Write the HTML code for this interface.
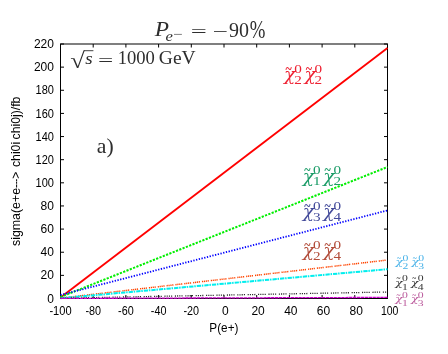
<!DOCTYPE html>
<html lang="en"><head><meta charset="utf-8"><title>P(e-) = -90%</title>
<style>html,body{margin:0;padding:0;background:#fff}svg{display:block;will-change:transform}.s{font-family:"Liberation Sans",sans-serif;font-size:12px;fill:#000}.r{font-family:"Liberation Serif",serif;fill:#2e2e2e}.i{font-family:"Liberation Serif",serif;font-style:italic}</style></head><body>
<svg width="448" height="354" viewBox="0 0 448 354">
<rect width="448" height="354" fill="#fff"/>
<path d="M60.50 298.5v-3.5M60.50 44.0v3.5M93.20 298.5v-3.5M93.20 44.0v3.5M125.90 298.5v-3.5M125.90 44.0v3.5M158.60 298.5v-3.5M158.60 44.0v3.5M191.30 298.5v-3.5M191.30 44.0v3.5M224.00 298.5v-3.5M224.00 44.0v3.5M256.70 298.5v-3.5M256.70 44.0v3.5M289.40 298.5v-3.5M289.40 44.0v3.5M322.10 298.5v-3.5M322.10 44.0v3.5M354.80 298.5v-3.5M354.80 44.0v3.5M387.50 298.5v-3.5M387.50 44.0v3.5M60.5 298.50h3.5M387.5 298.50h-3.5M60.5 275.36h3.5M387.5 275.36h-3.5M60.5 252.23h3.5M387.5 252.23h-3.5M60.5 229.09h3.5M387.5 229.09h-3.5M60.5 205.95h3.5M387.5 205.95h-3.5M60.5 182.82h3.5M387.5 182.82h-3.5M60.5 159.68h3.5M387.5 159.68h-3.5M60.5 136.55h3.5M387.5 136.55h-3.5M60.5 113.41h3.5M387.5 113.41h-3.5M60.5 90.27h3.5M387.5 90.27h-3.5M60.5 67.14h3.5M387.5 67.14h-3.5M60.5 44.00h3.5M387.5 44.00h-3.5" stroke="#000" stroke-width="1" fill="none"/>
<rect x="60.5" y="44.0" width="327.0" height="254.5" fill="none" stroke="#000" stroke-width="1"/>
<line x1="60.5" y1="297.4" x2="387.5" y2="48.1" stroke="#ff0000" stroke-width="1.85"/>
<line x1="60.5" y1="297.0" x2="387.5" y2="167.0" stroke="#00ee00" stroke-width="2.0" stroke-dasharray="2.2 1.35"/>
<line x1="60.5" y1="295.0" x2="387.5" y2="210.4" stroke="#0000ff" stroke-width="1.8" stroke-dasharray="1.3 1.5"/>
<line x1="60.5" y1="298.1" x2="387.5" y2="260.0" stroke="#ff4500" stroke-width="1.5" stroke-dasharray="1.2 0.7 1.2 0.7 1.2 0.7 1.2 2.0"/>
<line x1="60.5" y1="298.2" x2="387.5" y2="269.2" stroke="#00eeee" stroke-width="2.0" stroke-dasharray="4.3 0.8 1.5 1.0"/>
<line x1="60.5" y1="298.2" x2="387.5" y2="292.0" stroke="#222222" stroke-width="1.3" stroke-dasharray="1.1 1.1 1.1 1.1 1.1 1.1 1.1 2.7"/>
<line x1="60.5" y1="298.4" x2="387.5" y2="297.4" stroke="#cc00cc" stroke-width="1.3" stroke-dasharray="3.4 0.5"/>
<text class="s" text-anchor="end" transform="translate(53.95 302.60) scale(1 1)">0</text>
<text class="s" text-anchor="end" transform="translate(53.95 279.46) scale(1 1)">20</text>
<text class="s" text-anchor="end" transform="translate(53.95 256.33) scale(1 1)">40</text>
<text class="s" text-anchor="end" transform="translate(53.95 233.19) scale(1 1)">60</text>
<text class="s" text-anchor="end" transform="translate(53.95 210.05) scale(1 1)">80</text>
<text class="s" text-anchor="end" transform="translate(53.95 186.92) scale(0.92 1)">100</text>
<text class="s" text-anchor="end" transform="translate(53.95 163.78) scale(0.92 1)">120</text>
<text class="s" text-anchor="end" transform="translate(53.95 140.65) scale(0.92 1)">140</text>
<text class="s" text-anchor="end" transform="translate(53.95 117.51) scale(0.92 1)">160</text>
<text class="s" text-anchor="end" transform="translate(53.95 94.37) scale(0.92 1)">180</text>
<text class="s" text-anchor="end" transform="translate(53.95 71.24) scale(1 1)">200</text>
<text class="s" text-anchor="end" transform="translate(53.95 48.10) scale(1 1)">220</text>
<text class="s" text-anchor="middle" transform="translate(60.50 315) scale(0.925 1)">-100</text>
<text class="s" text-anchor="middle" transform="translate(93.20 315) scale(0.9 1)">-80</text>
<text class="s" text-anchor="middle" transform="translate(125.90 315) scale(0.9 1)">-60</text>
<text class="s" text-anchor="middle" transform="translate(158.60 315) scale(0.9 1)">-40</text>
<text class="s" text-anchor="middle" transform="translate(191.30 315) scale(0.9 1)">-20</text>
<text class="s" text-anchor="middle" transform="translate(225.40 315) scale(1 1)">0</text>
<text class="s" text-anchor="middle" transform="translate(258.10 315) scale(1 1)">20</text>
<text class="s" text-anchor="middle" transform="translate(290.80 315) scale(1 1)">40</text>
<text class="s" text-anchor="middle" transform="translate(323.50 315) scale(1 1)">60</text>
<text class="s" text-anchor="middle" transform="translate(356.20 315) scale(1 1)">80</text>
<text class="s" text-anchor="middle" transform="translate(389.70 315) scale(0.875 1)">100</text>
<text class="s" x="223.9" y="332.5" text-anchor="middle" transform="translate(223.9 0) scale(0.98 1) translate(-223.9 0)">P(e+)</text>
<text class="s" transform="translate(19.5 246.0) rotate(-90) scale(1.03 1)">sigma(e+e-</text>
<text class="s" transform="translate(19.5 183.9) rotate(-90) scale(0.62 1)">--</text>
<text class="s" transform="translate(19.5 178.8) rotate(-90) scale(1.0 1)">&gt;</text>
<text class="s" transform="translate(19.5 167.1) rotate(-90) scale(1.025 1)">chi0i</text>
<text class="s" transform="translate(19.5 139.4) rotate(-90) scale(1.02 1)">chi0j)/fb</text>
<text class="r i" transform="translate(154.7 36.3) scale(1.15 1)" font-size="20.3">P</text>
<text class="r i" transform="translate(165.5 40.65) scale(1.14 1)" font-size="14.6">e</text>
<text class="r" transform="translate(173.2 38.1) scale(1.42 1)" font-size="12">−</text>
<text class="r" transform="translate(190.8 37.1) scale(1.675 1)" font-size="17">=</text>
<text class="r" transform="translate(212.6 37.1) scale(1.6 1)" font-size="17">−</text>
<text class="r" transform="translate(229.1 36.6) scale(1 1)" font-size="20">90</text>
<text class="r" transform="translate(249.7 37.9) scale(0.94 1.25)" font-size="20">%</text>
<text class="r" transform="translate(70.2 67.9) scale(1.19 1)" font-size="22.3">√</text>
<path d="M84 50.7H93.4" stroke="#2e2e2e" stroke-width="0.9"/>
<text class="r i" transform="translate(85.2 64.3) scale(1.08 1)" font-size="17.7">s</text>
<text class="r" transform="translate(98.1 66.1) scale(1.59 1)" font-size="17">=</text>
<text class="r" transform="translate(117.7 64.2) scale(1 1)" font-size="18.6">1000</text>
<text class="r" transform="translate(158.8 64.2) scale(1.05 1)" font-size="18.6">GeV</text>
<text class="r" transform="translate(96.75 153.3) scale(1 1)" font-size="21.7">a)</text>
<g fill="#ee2233" transform="translate(283.0 83.6)"><text transform="translate(1.0 -3.5) scale(1.13 0.97)" font-size="16.5" font-family="DejaVu Serif,serif" font-style="italic">χ</text><text x="2.4" y="-10.9" font-size="12" font-weight="bold" font-family="Liberation Serif,serif">~</text><text transform="translate(11.2 -11.0) scale(1.3 1)" font-size="11.7" font-family="Liberation Serif,serif">0</text><text transform="translate(11.2 0.1) scale(1.3 1)" font-size="11.7" font-family="Liberation Serif,serif">2</text><text transform="translate(21.4 -3.5) scale(1.13 0.97)" font-size="16.5" font-family="DejaVu Serif,serif" font-style="italic">χ</text><text x="22.8" y="-10.9" font-size="12" font-weight="bold" font-family="Liberation Serif,serif">~</text><text transform="translate(31.6 -11.0) scale(1.3 1)" font-size="11.7" font-family="Liberation Serif,serif">0</text><text transform="translate(31.6 0.1) scale(1.3 1)" font-size="11.7" font-family="Liberation Serif,serif">2</text></g>
<g fill="#1c9c68" transform="translate(301.8 185.3)"><text transform="translate(1.0 -3.5) scale(1.13 0.97)" font-size="16.5" font-family="DejaVu Serif,serif" font-style="italic">χ</text><text x="2.4" y="-10.9" font-size="12" font-weight="bold" font-family="Liberation Serif,serif">~</text><text transform="translate(11.2 -11.0) scale(1.3 1)" font-size="11.7" font-family="Liberation Serif,serif">0</text><text transform="translate(11.2 0.1) scale(1.3 1)" font-size="11.7" font-family="Liberation Serif,serif">1</text><text transform="translate(21.4 -3.5) scale(1.13 0.97)" font-size="16.5" font-family="DejaVu Serif,serif" font-style="italic">χ</text><text x="22.8" y="-10.9" font-size="12" font-weight="bold" font-family="Liberation Serif,serif">~</text><text transform="translate(31.6 -11.0) scale(1.3 1)" font-size="11.7" font-family="Liberation Serif,serif">0</text><text transform="translate(31.6 0.1) scale(1.3 1)" font-size="11.7" font-family="Liberation Serif,serif">2</text></g>
<g fill="#434a9a" transform="translate(301.8 220.9)"><text transform="translate(1.0 -3.5) scale(1.13 0.97)" font-size="16.5" font-family="DejaVu Serif,serif" font-style="italic">χ</text><text x="2.4" y="-10.9" font-size="12" font-weight="bold" font-family="Liberation Serif,serif">~</text><text transform="translate(11.2 -11.0) scale(1.3 1)" font-size="11.7" font-family="Liberation Serif,serif">0</text><text transform="translate(11.2 0.1) scale(1.3 1)" font-size="11.7" font-family="Liberation Serif,serif">3</text><text transform="translate(21.4 -3.5) scale(1.13 0.97)" font-size="16.5" font-family="DejaVu Serif,serif" font-style="italic">χ</text><text x="22.8" y="-10.9" font-size="12" font-weight="bold" font-family="Liberation Serif,serif">~</text><text transform="translate(31.6 -11.0) scale(1.3 1)" font-size="11.7" font-family="Liberation Serif,serif">0</text><text transform="translate(31.6 0.1) scale(1.3 1)" font-size="11.7" font-family="Liberation Serif,serif">4</text></g>
<g fill="#b24c3a" transform="translate(301.8 259.9)"><text transform="translate(1.0 -3.5) scale(1.13 0.97)" font-size="16.5" font-family="DejaVu Serif,serif" font-style="italic">χ</text><text x="2.4" y="-10.9" font-size="12" font-weight="bold" font-family="Liberation Serif,serif">~</text><text transform="translate(11.2 -11.0) scale(1.3 1)" font-size="11.7" font-family="Liberation Serif,serif">0</text><text transform="translate(11.2 0.1) scale(1.3 1)" font-size="11.7" font-family="Liberation Serif,serif">2</text><text transform="translate(21.4 -3.5) scale(1.13 0.97)" font-size="16.5" font-family="DejaVu Serif,serif" font-style="italic">χ</text><text x="22.8" y="-10.9" font-size="12" font-weight="bold" font-family="Liberation Serif,serif">~</text><text transform="translate(31.6 -11.0) scale(1.3 1)" font-size="11.7" font-family="Liberation Serif,serif">0</text><text transform="translate(31.6 0.1) scale(1.3 1)" font-size="11.7" font-family="Liberation Serif,serif">4</text></g>
<g fill="#48b2e8" transform="translate(394.9 267.4)"><text transform="translate(0.7 -2.2) scale(1.15 0.94)" font-size="10.6" font-family="DejaVu Serif,serif" font-style="italic">χ</text><text x="2.0" y="-6.7" font-size="7.5" font-weight="bold" font-family="Liberation Serif,serif">~</text><text transform="translate(7.5 -6.8) scale(1.45 1)" font-size="8.1" font-family="Liberation Serif,serif">0</text><text transform="translate(7.5 1.4) scale(1.45 1)" font-size="8.1" font-family="Liberation Serif,serif">2</text><text transform="translate(16.5 -2.2) scale(1.15 0.94)" font-size="10.6" font-family="DejaVu Serif,serif" font-style="italic">χ</text><text x="17.8" y="-6.7" font-size="7.5" font-weight="bold" font-family="Liberation Serif,serif">~</text><text transform="translate(23.3 -6.8) scale(1.45 1)" font-size="8.1" font-family="Liberation Serif,serif">0</text><text transform="translate(23.3 1.4) scale(1.45 1)" font-size="8.1" font-family="Liberation Serif,serif">3</text></g>
<g fill="#333333" transform="translate(394.5 288.1)"><text transform="translate(0.7 -2.2) scale(1.15 0.94)" font-size="10.6" font-family="DejaVu Serif,serif" font-style="italic">χ</text><text x="2.0" y="-6.7" font-size="7.5" font-weight="bold" font-family="Liberation Serif,serif">~</text><text transform="translate(7.5 -6.8) scale(1.45 1)" font-size="8.1" font-family="Liberation Serif,serif">0</text><text transform="translate(7.5 1.4) scale(1.45 1)" font-size="8.1" font-family="Liberation Serif,serif">1</text><text transform="translate(16.5 -2.2) scale(1.15 0.94)" font-size="10.6" font-family="DejaVu Serif,serif" font-style="italic">χ</text><text x="17.8" y="-6.7" font-size="7.5" font-weight="bold" font-family="Liberation Serif,serif">~</text><text transform="translate(23.3 -6.8) scale(1.45 1)" font-size="8.1" font-family="Liberation Serif,serif">0</text><text transform="translate(23.3 1.4) scale(1.45 1)" font-size="8.1" font-family="Liberation Serif,serif">4</text></g>
<g fill="#bb5a9c" transform="translate(394.5 304.5)"><text transform="translate(0.7 -2.2) scale(1.15 0.94)" font-size="10.6" font-family="DejaVu Serif,serif" font-style="italic">χ</text><text x="2.0" y="-6.7" font-size="7.5" font-weight="bold" font-family="Liberation Serif,serif">~</text><text transform="translate(7.5 -6.8) scale(1.45 1)" font-size="8.1" font-family="Liberation Serif,serif">0</text><text transform="translate(7.5 1.4) scale(1.45 1)" font-size="8.1" font-family="Liberation Serif,serif">1</text><text transform="translate(16.5 -2.2) scale(1.15 0.94)" font-size="10.6" font-family="DejaVu Serif,serif" font-style="italic">χ</text><text x="17.8" y="-6.7" font-size="7.5" font-weight="bold" font-family="Liberation Serif,serif">~</text><text transform="translate(23.3 -6.8) scale(1.45 1)" font-size="8.1" font-family="Liberation Serif,serif">0</text><text transform="translate(23.3 1.4) scale(1.45 1)" font-size="8.1" font-family="Liberation Serif,serif">3</text></g>
</svg></body></html>
